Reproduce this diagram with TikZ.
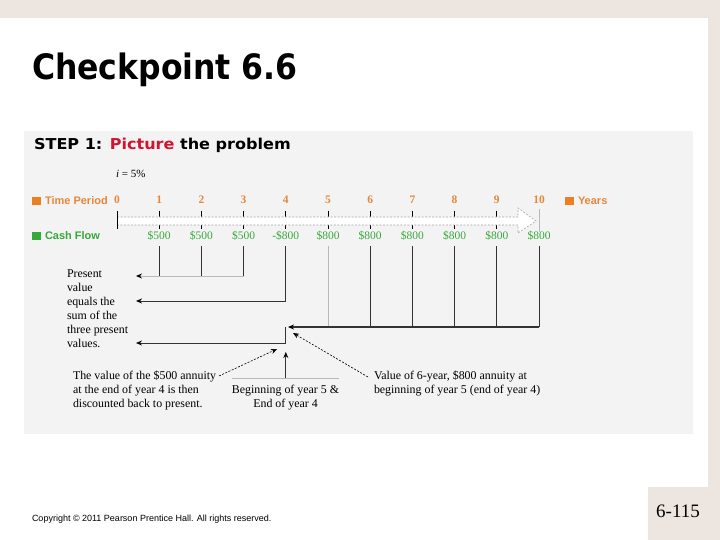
\documentclass[tikz,border=0pt]{standalone}
\usepackage{fontspec}
\setmainfont{Liberation Serif}
\setsansfont{Liberation Sans}
\newfontfamily\titlefont{DejaVu Sans Condensed}
\newfontfamily\stepfont{DejaVu Sans}
\usetikzlibrary{arrows.meta}
\definecolor{beige}{HTML}{EDE5DF}
\definecolor{panel}{HTML}{F3F3F3}
\definecolor{orng}{HTML}{EC7F22}
\definecolor{orngtxt}{HTML}{E3883C}
\definecolor{grn}{HTML}{35A93A}
\definecolor{stepred}{HTML}{D1132F}
\definecolor{lingray}{HTML}{B8B8B8}
\definecolor{darkline}{HTML}{333333}
\tikzset{
  num/.style={anchor=base, text=orngtxt, font=\bfseries\fontsize{11.5}{12}\selectfont},
  val/.style={anchor=base, text=grn, font=\fontsize{11.5}{12}\selectfont},
  legend/.style={anchor=base west, font=\sffamily\bfseries\fontsize{11}{12}\selectfont},
  body/.style={font=\fontsize{11.9}{14}\selectfont, align=left},
  tip/.style={-{Stealth[length=6pt,width=5pt,color=black]}},
  vline/.style={draw=darkline, line width=1pt},
  gline/.style={draw=lingray, line width=1pt},
  dasharrow/.style={draw=black, dashed, dash pattern=on 2pt off 1.5pt, line width=0.6pt, -{Stealth[length=6pt,width=5pt]}}
}
\begin{document}
\begin{tikzpicture}[x=1pt,y=-1pt, every node/.style={inner sep=0pt, outer sep=0pt}]
\useasboundingbox (0,0) rectangle (720,540);
\fill[beige] (0,0) rectangle (720,540);
\fill[white] (0,18) rectangle (708,540);
\fill[beige] (648,487) rectangle (708,540);
\fill[panel] (24,131) rectangle (693,434);

\node[anchor=base west, font=\titlefont\bfseries\fontsize{35}{36}\selectfont] (title) at (32,80) {Checkpoint 6.6};
\node[anchor=base west, font=\stepfont\bfseries\fontsize{15}{16}\selectfont] (step) at (34,150) {\scalebox{1.07}[1]{STEP 1: \textcolor{stepred}{Picture} the problem}};
\node[anchor=base west, font=\fontsize{11}{11}\selectfont] (rate) at (116,178) {\textit{i} = 5\%};

% legend
\fill[orng] (32,197) rectangle (41,205);
\node[legend, text=orngtxt] (tp) at (45,205) {Time Period};
\fill[grn] (32,232) rectangle (41,240);
\node[legend, text=grn] (cf) at (45,240) {Cash Flow};
\fill[orng] (565,197) rectangle (574,205);
\node[legend, text=orngtxt] (yrs) at (578,205) {Years};

% ticks
\foreach \i in {0,...,9} {
  \pgfmathsetmacro\xx{117+42.2*\i}
  \draw[black, line width=0.8pt] (\xx,211) -- (\xx,229);
}
\draw[lingray, line width=0.8pt] (539,209) -- (539,232);
% outline arrow
\filldraw[fill=white, draw=gray!70, dash pattern=on 2pt off 1.5pt, line width=0.6pt]
  (117,217) -- (518,217) -- (518,208) -- (536,221) -- (518,233) -- (518,225) -- (117,225);
\draw[black, line width=0.8pt] (117,211) -- (117,229);

% numbers and values
\foreach \i in {0,...,10} {
  \pgfmathsetmacro\xx{117+42.2*\i}
  \node[num] (t\i) at (\xx,204) {\i};
}
\foreach \i/\v in {1/\$500,2/\$500,3/\$500,4/-\$800,5/\$800,6/\$800,7/\$800,8/\$800,9/\$800,10/\$800} {
  \pgfmathsetmacro\xx{117+42.2*\i}
  \node[val] (c\i) at (\xx,240) {\v};
  \coordinate (d\i) at (\xx,246);
}

% first group: $500 annuity
\coordinate (pv1) at (136,276);
\foreach \i in {1,2,3} { \draw[vline] (d\i) -- (d\i |- pv1); }
\draw[gline, tip] (d3 |- pv1) -- (pv1);

% -$800
\coordinate (pv2) at (136,301);
\draw[vline, tip] (d4) -- (d4 |- pv2) -- (pv2);

% $800 annuity
\coordinate (ann) at (288,327);
\draw[gline] (d5) -- (d5 |- ann);
\foreach \i in {6,...,10} { \draw[vline] (d\i) -- (d\i |- ann); }
\draw[vline, line width=1.4pt, tip] (d10 |- ann) -- (ann);
\coordinate (step4) at (285.8,327);
\coordinate (pv3) at (136,343);
\draw[vline, tip] (step4) -- (step4 |- pv3) -- (pv3);

% up arrow
\coordinate (upbase) at (285.8,378);
\coordinate (uptip) at (285.8,352);
\draw[lingray, line width=0.8pt] (232,378) -- (339,378);
\draw[vline, tip] (upbase) -- (uptip);

% texts
\node[body, anchor=north west] (pvtext) at (67,267.7) {\strut Present\\value\\equals the\\sum of the\\three present\\values.};
\node[body, anchor=north west] (disc) at (73,369.2) {\strut The value of the \$500 annuity\\at the end of year 4 is then\\discounted back to present.};
\node[body, anchor=north, align=center] (beg) at (285.5,383.2) {\strut Beginning of year 5 \&\\End of year 4};
\node[body, anchor=north west] (six) at (374,369.2) {\strut Value of 6-year, \$800 annuity at\\beginning of year 5 (end of year 4)};

\coordinate (da1) at (277,349);
\draw[dasharrow] (219,376) -- (da1);
\coordinate (da2) at (293,333);
\draw[dasharrow] (368,377) -- (da2);

\node[anchor=base west, font=\sffamily\fontsize{9}{10}\selectfont] (copy) at (32,521) {Copyright \textcopyright{} 2011 Pearson Prentice Hall. All rights reserved.};
\node[font=\fontsize{19}{20}\selectfont] (pg) at (678,511) {6-115};
\end{tikzpicture}
\end{document}
